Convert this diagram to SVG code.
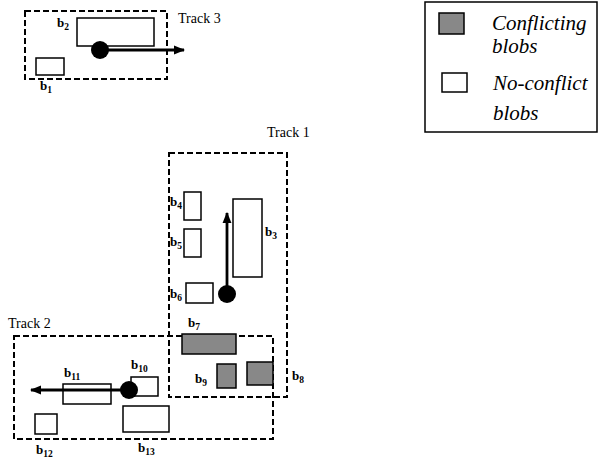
<svg xmlns="http://www.w3.org/2000/svg" width="598" height="461" viewBox="0 0 598 461">
<defs>
<marker id="ah" viewBox="0 0 10 10" refX="9" refY="5" markerWidth="4" markerHeight="4" markerUnits="strokeWidth" orient="auto">
<path d="M0,1 L10,5 L0,9 Z" fill="#000"/>
</marker>
</defs>
<style>
.trk{fill:none;stroke:#000;stroke-width:2;stroke-dasharray:6,3}
.blob{fill:#fff;stroke:#000;stroke-width:1.5}
.conf{fill:#888;stroke:#000;stroke-width:1.5}
.lbl{font-family:"Liberation Serif",serif;font-weight:bold;font-size:13px;fill:#000}
.sub{font-size:9.5px}
.tt{font-family:"Liberation Serif",serif;font-size:14px;fill:#000}
.leg{font-family:"Liberation Serif",serif;font-style:italic;font-size:21px;fill:#000}
.mv{stroke:#000;stroke-width:2.8;fill:none;marker-end:url(#ah)}
</style>
<rect width="598" height="461" fill="#fff"/>

<g id="track3">
<rect class="trk" x="25" y="11" width="142" height="68"/>
<text class="tt" x="178" y="23">Track 3</text>
</g>
<g id="track1">
<rect class="trk" x="169" y="153" width="118" height="244"/>
<text class="tt" x="267" y="137">Track 1</text>
</g>
<g id="track2">
<rect class="trk" x="14" y="336" width="259" height="103"/>
<text class="tt" x="8" y="328">Track 2</text>
</g>

<g id="legend">
<rect x="425" y="2" width="172" height="130" fill="#fff" stroke="#000" stroke-width="1.5"/>
<rect class="conf" x="439" y="13" width="25" height="21"/>
<text class="leg" x="492" y="30">Conflicting</text>
<text class="leg" x="492" y="53">blobs</text>
<rect class="blob" x="442" y="73" width="25" height="19"/>
<text class="leg" x="493" y="90">No-conflict</text>
<text class="leg" x="493" y="120">blobs</text>
</g>

<g id="b1"><rect class="blob" x="36" y="58" width="28" height="17"/><text class="lbl" x="40" y="90">b<tspan class="sub" dy="3">1</tspan></text></g>
<g id="b2"><rect class="blob" x="77" y="18" width="77" height="28"/><text class="lbl" x="57" y="27">b<tspan class="sub" dy="3">2</tspan></text></g>
<g id="b3"><rect class="blob" x="233" y="199" width="29" height="78"/><text class="lbl" x="265" y="236">b<tspan class="sub" dy="3">3</tspan></text></g>
<g id="b4"><rect class="blob" x="184" y="192" width="17" height="28"/><text class="lbl" x="170" y="206">b<tspan class="sub" dy="3">4</tspan></text></g>
<g id="b5"><rect class="blob" x="184" y="229" width="17" height="28"/><text class="lbl" x="170" y="246">b<tspan class="sub" dy="3">5</tspan></text></g>
<g id="b6"><rect class="blob" x="186" y="283" width="27" height="20"/><text class="lbl" x="170" y="298">b<tspan class="sub" dy="3">6</tspan></text></g>
<g id="b7"><rect class="conf" x="182" y="334" width="54" height="20"/><text class="lbl" x="188" y="327">b<tspan class="sub" dy="3">7</tspan></text></g>
<g id="b8"><rect class="conf" x="247" y="362" width="26" height="23"/><text class="lbl" x="292" y="380">b<tspan class="sub" dy="3">8</tspan></text></g>
<g id="b9"><rect class="conf" x="217" y="364" width="19" height="24"/><text class="lbl" x="195" y="383">b<tspan class="sub" dy="3">9</tspan></text></g>
<g id="b10"><rect class="blob" x="131" y="377" width="27" height="19"/><text class="lbl" x="131" y="369">b<tspan class="sub" dy="3">10</tspan></text></g>
<g id="b11"><rect class="blob" x="63" y="384" width="48" height="20"/><text class="lbl" x="64" y="377">b<tspan class="sub" dy="3">11</tspan></text></g>
<g id="b12"><rect class="blob" x="35" y="414" width="22" height="20"/><text class="lbl" x="36" y="454">b<tspan class="sub" dy="3">12</tspan></text></g>
<g id="b13"><rect class="blob" x="123" y="406" width="46" height="26"/><text class="lbl" x="138" y="452">b<tspan class="sub" dy="3">13</tspan></text></g>

<g id="connectors">
<line class="mv" x1="100" y1="50" x2="184" y2="50"/>
<circle cx="100" cy="50" r="9" fill="#000"/>
<line class="mv" x1="227" y1="294" x2="227" y2="213"/>
<circle cx="227" cy="294" r="9" fill="#000"/>
<line class="mv" x1="129" y1="390" x2="31" y2="390"/>
<circle cx="129" cy="390" r="9" fill="#000"/>
</g>
</svg>
